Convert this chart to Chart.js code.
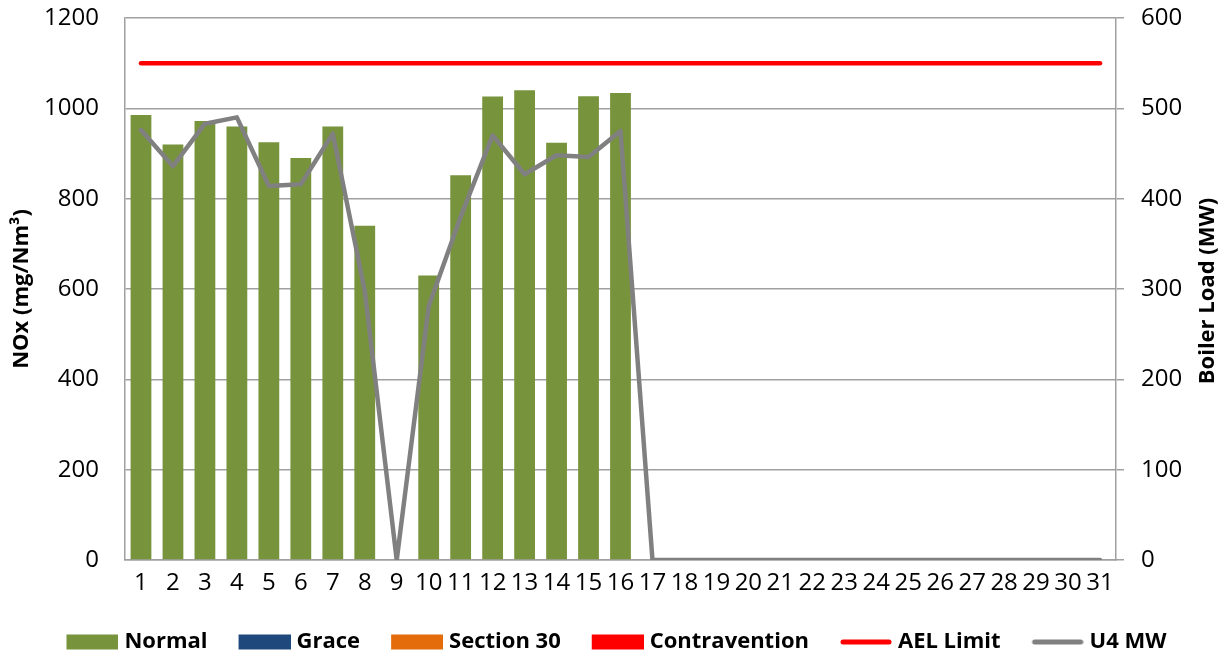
<!DOCTYPE html>
<html>
<head>
<meta charset="utf-8">
<script src="https://cdn.jsdelivr.net/npm/chart.js@4.4.1/dist/chart.umd.min.js"></script>
<style>
  html, body { margin: 0; padding: 0; background: #ffffff; }
  #wrap { width: 1232px; height: 657px; }
</style>
</head>
<body>
<div id="wrap"><canvas id="c" width="1232" height="657"></canvas></div>
<script>
const days = ['1','2','3','4','5','6','7','8','9','10','11','12','13','14','15','16','17','18','19','20','21','22','23','24','25','26','27','28','29','30','31'];
const normal = [985, 920, 972, 960, 925, 890, 960, 740, null, 630, 852, 1026, 1040, 924, 1027, 1034, null, null, null, null, null, null, null, null, null, null, null, null, null, null, null];
const grace = [];
const section30 = [];
const contravention = [];
const aelLimit = [1100, 1100, 1100, 1100, 1100, 1100, 1100, 1100, 1100, 1100, 1100, 1100, 1100, 1100, 1100, 1100, 1100, 1100, 1100, 1100, 1100, 1100, 1100, 1100, 1100, 1100, 1100, 1100, 1100, 1100, 1100];
const u4MW = [476, 436, 483, 490, 414, 416, 472, 298, 0, 281, 380, 470, 427, 448, 446, 475, 0, 0, 0, 0, 0, 0, 0, 0, 0, 0, 0, 0, 0, 0, 0];
const noxTicks = [0, 200, 400, 600, 800, 1000, 1200];
const mwTicks = [0, 100, 200, 300, 400, 500, 600];
const leftTitle = 'NOx (mg/Nm³)';
const rightTitle = 'Boiler Load (MW)';

const FONT = "'Open Sans', 'DejaVu Sans', sans-serif";
const GRID = '#a0a0a0';

function swatch(color, kind) {
  const W = 84, H = 16;
  const cv = document.createElement('canvas');
  cv.width = W; cv.height = H;
  const g = cv.getContext('2d');
  if (kind === 'box') {
    g.fillStyle = color;
    g.fillRect(W - 52, 0.5, 52, 15);
  } else {
    g.strokeStyle = color;
    g.lineWidth = 5;
    g.lineCap = 'round';
    g.beginPath();
    g.moveTo(W - 52 + 3, H / 2);
    g.lineTo(W - 3, H / 2);
    g.stroke();
  }
  return cv;
}

const legendSpec = [
  { text: 'Normal', color: '#77933c', kind: 'box', ds: 0 },
  { text: 'Grace', color: '#1f497d', kind: 'box', ds: 1 },
  { text: 'Section 30', color: '#e46c0a', kind: 'box', ds: 2 },
  { text: 'Contravention', color: '#ff0000', kind: 'box', ds: 3 },
  { text: 'AEL Limit', color: '#ff0000', kind: 'line', ds: 4 },
  { text: 'U4 MW', color: '#808080', kind: 'line', ds: 5 }
];

const PAD_L = 0, PAD_R = 26;

const rightTitlePlugin = {
  id: 'rightTitle',
  afterDraw(chart) {
    const ctx = chart.ctx, a = chart.chartArea;
    ctx.save();
    ctx.translate(1208, (a.top + a.bottom) / 2 + 2);
    ctx.rotate(-Math.PI / 2);
    ctx.font = 'bold 22px ' + FONT;
    ctx.fillStyle = '#000000';
    ctx.textAlign = 'center';
    ctx.textBaseline = 'middle';
    ctx.fillText(rightTitle, 0, 0);
    ctx.restore();
  }
};

const barCommon = { yAxisID: 'y', grouped: false, categoryPercentage: 1.0, barPercentage: 0.65, borderWidth: 0, order: 2 };

new Chart(document.getElementById('c'), {
  type: 'bar',
  data: {
    labels: days,
    datasets: [
      Object.assign({ label: 'Normal', data: normal, backgroundColor: '#77933c' }, barCommon),
      Object.assign({ label: 'Grace', data: grace, backgroundColor: '#1f497d' }, barCommon),
      Object.assign({ label: 'Section 30', data: section30, backgroundColor: '#e46c0a' }, barCommon),
      Object.assign({ label: 'Contravention', data: contravention, backgroundColor: '#ff0000' }, barCommon),
      { type: 'line', label: 'AEL Limit', data: aelLimit, yAxisID: 'y', borderColor: '#ff0000', backgroundColor: '#ff0000',
        borderWidth: 4.5, pointRadius: 0, pointHoverRadius: 0, tension: 0, borderCapStyle: 'round', borderJoinStyle: 'round', fill: false, order: 1 },
      { type: 'line', label: 'U4 MW', data: u4MW, yAxisID: 'y2', borderColor: '#808080', backgroundColor: '#808080',
        borderWidth: 4.5, pointRadius: 0, pointHoverRadius: 0, tension: 0, borderCapStyle: 'round', borderJoinStyle: 'round', fill: false, order: 0 }
    ]
  },
  plugins: [rightTitlePlugin],
  options: {
    responsive: false,
    animation: false,
    devicePixelRatio: 1,
    layout: { padding: { top: 8, left: PAD_L, right: PAD_R, bottom: -6 } },
    plugins: {
      tooltip: { enabled: false },
      legend: {
        position: 'bottom',
        labels: {
          usePointStyle: true,
          pointStyleWidth: 74,
          boxHeight: 16,
          padding: 4,
          color: '#000000',
          font: { family: FONT, size: 22, weight: 'bold' },
          generateLabels: () => legendSpec.map(s => ({
            text: s.text,
            pointStyle: swatch(s.color, s.kind),
            fillStyle: s.color,
            strokeStyle: s.color,
            lineWidth: 0,
            hidden: false,
            datasetIndex: s.ds,
            fontColor: '#000000'
          }))
        }
      }
    },
    scales: {
      x: {
        offset: true,
        grid: { display: false, drawTicks: false },
        border: { display: true, color: GRID, width: 1.5 },
        ticks: { color: '#000000', font: { family: FONT, size: 24 }, autoSkip: false, maxRotation: 0, minRotation: 0, padding: 9 },
        afterFit: (s) => { s.height = 67; }
      },
      y: {
        position: 'left',
        min: 0, max: 1200,
        afterBuildTicks: (ax) => { ax.ticks = noxTicks.map(v => ({ value: v })); },
        grid: { color: GRID, lineWidth: 1.5, drawTicks: false },
        border: { display: true, color: GRID, width: 1.5 },
        ticks: { color: '#000000', font: { family: FONT, size: 24 }, padding: 26, callback: (v) => String(v) },
        title: { display: true, text: leftTitle, color: '#000000', font: { family: FONT, size: 22, weight: 'bold' }, padding: { top: 9, bottom: 0 } },
        afterFit: (s) => { s.width = 125 - PAD_L; s.paddingTop = 18; s.paddingBottom = 0; }
      },
      y2: {
        position: 'right',
        min: 0, max: 600,
        afterBuildTicks: (ax) => { ax.ticks = mwTicks.map(v => ({ value: v })); },
        grid: { drawOnChartArea: false, drawTicks: true, tickLength: 8, color: GRID, lineWidth: 1.5 },
        border: { display: true, color: GRID, width: 1.5 },
        ticks: { color: '#000000', font: { family: FONT, size: 24 }, padding: 17, callback: (v) => String(v) },
        title: { display: false },
        afterFit: (s) => { s.width = 1232 - PAD_R - 1116; s.paddingTop = 18; s.paddingBottom = 0; }
      }
    }
  }
});
</script>
</body>
</html>
